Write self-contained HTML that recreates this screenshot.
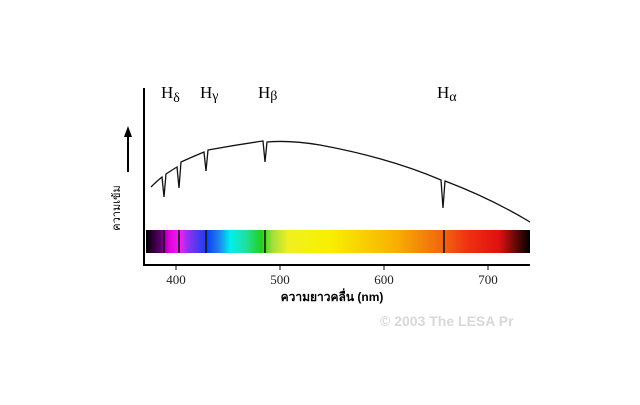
<!DOCTYPE html>
<html><head><meta charset="utf-8"><style>
body{margin:0;background:#fff;}
.serif{font-family:"Liberation Serif","Noto Serif CJK SC",serif;}
.sans{font-family:"Liberation Sans","Noto Sans CJK SC",sans-serif;}
</style></head><body>
<svg width="640" height="400" viewBox="0 0 640 400" xmlns="http://www.w3.org/2000/svg">
<defs>
<linearGradient id="sp" x1="146" x2="530" y1="0" y2="0" gradientUnits="userSpaceOnUse">
<stop offset="0" stop-color="#000"/>
<stop offset="0.04" stop-color="#600070"/>
<stop offset="0.06" stop-color="#e000e0"/>
<stop offset="0.09" stop-color="#f020f0"/>
<stop offset="0.11" stop-color="#9030f0"/>
<stop offset="0.16" stop-color="#1040f0"/>
<stop offset="0.19" stop-color="#2080f0"/>
<stop offset="0.22" stop-color="#00f0f0"/>
<stop offset="0.26" stop-color="#20e0a0"/>
<stop offset="0.30" stop-color="#20d020"/>
<stop offset="0.33" stop-color="#a0e040"/>
<stop offset="0.37" stop-color="#f0f020"/>
<stop offset="0.48" stop-color="#f8f000"/>
<stop offset="0.65" stop-color="#f8b000"/>
<stop offset="0.78" stop-color="#f06010"/>
<stop offset="0.84" stop-color="#f03010"/>
<stop offset="0.92" stop-color="#e01010"/>
<stop offset="1" stop-color="#000"/>
</linearGradient>
</defs>
<rect x="146" y="230" width="384" height="23" fill="url(#sp)"/>
<g stroke="#111" stroke-width="1.5">
<line x1="164" y1="230" x2="164" y2="253"/><line x1="179" y1="230" x2="179" y2="253"/>
<line x1="206" y1="230" x2="206" y2="253"/><line x1="265" y1="230" x2="265" y2="253"/>
<line x1="444" y1="230" x2="444" y2="253"/>
</g>
<path d="M144 88 V265 H530" fill="none" stroke="#000" stroke-width="2"/>
<g stroke="#000" stroke-width="1"><line x1="176" y1="265" x2="176" y2="270"/><line x1="280" y1="265" x2="280" y2="270"/><line x1="384" y1="265" x2="384" y2="270"/><line x1="488" y1="265" x2="488" y2="270"/></g>
<g class="serif" font-size="13" text-anchor="middle" fill="#222"><text x="176" y="284">400</text><text x="280" y="284">500</text><text x="384" y="284">600</text><text x="488" y="284">700</text></g>
<text class="sans" x="332" y="301" font-size="12" font-weight="bold" text-anchor="middle">ความยาวคลื่น (nm)</text>
<path d="M151 187 Q157 181 162 177 L164 197 L166 174 Q172 170 177 167 L179 188 L181 162 Q192 157 204 152 L206 171 L208 150 Q235 145 263 141 L265 162 L267 142 Q290 140 320 145 Q390 158 441 180 L443 208 L445 181 Q490 198 530 222" fill="none" stroke="#111" stroke-width="1.3"/>
<line x1="128" y1="172" x2="128" y2="134" stroke="#000" stroke-width="2"/>
<polygon points="128,126 124,137 132,137" fill="#000"/>
<text class="sans" transform="translate(120,208) rotate(-90)" font-size="11" text-anchor="middle">ความเข้ม</text>
<g class="serif" font-size="17"><text x="161" y="98">H<tspan font-size="14" dy="4">δ</tspan></text>
<text x="200" y="98">H<tspan font-size="14" dy="2">γ</tspan></text>
<text x="258" y="98">H<tspan font-size="14" dy="2">β</tspan></text>
<text x="437" y="98">H<tspan font-size="14" dy="3">α</tspan></text></g>
<text class="sans" x="380" y="326" font-size="14" font-weight="bold" fill="#d8d8d8">© 2003  The LESA Pr</text>
</svg>
</body></html>
